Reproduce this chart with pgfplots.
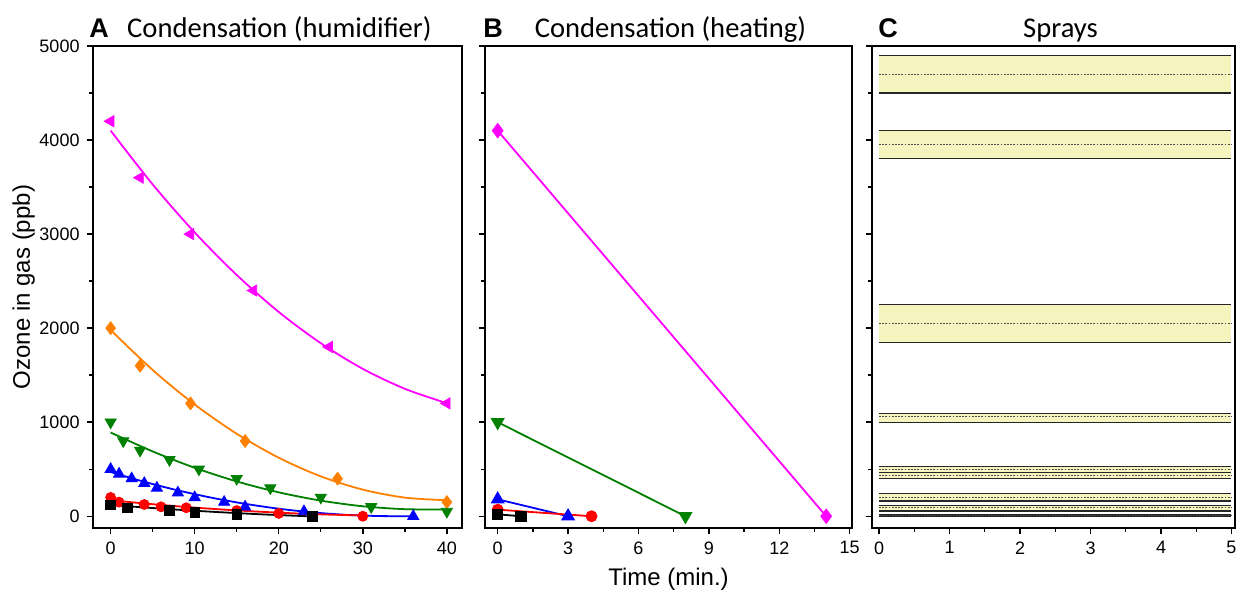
\documentclass[border=0pt]{standalone}
\usepackage{fontspec}
\setmainfont{Liberation Sans}
\newfontfamily\calibri{Carlito}
\usepackage{pgfplots}
\pgfplotsset{compat=1.18}
\definecolor{bandfill}{RGB}{246,244,190}
\definecolor{myorange}{RGB}{255,128,0}
\definecolor{mygreen}{RGB}{0,128,0}
\definecolor{mymag}{RGB}{255,0,255}

\pgfplotsset{
  panel/.style={
    scale only axis, height=241pt, ymin=-125, ymax=5000,
    anchor=south west,
    axis line style={line width=0.9pt},
    tick align=outside, tick pos=left,
    major tick length=3.2pt, minor tick length=1.8pt,
    tick style={black, line width=0.7pt},
    ytick={0,1000,...,5000}, minor ytick={500,1500,...,4500},
    tick label style={font=\fontsize{9}{10}\selectfont},
    label style={font=\fontsize{12}{14}\selectfont},
    /pgf/number format/assume math mode=true,
    /pgf/number format/set thousands separator={},
    clip=false,
  },
  fitline/.style={line width=0.9pt, no markers, smooth},
  mk/.style={only marks, mark size=#1},
}
\newcommand{\band}[3]{%
  \addplot[draw=none, fill=bandfill] coordinates {(0,#1) (5,#1) (5,#3) (0,#3)};
  \addplot[black!85, line width=0.6pt] coordinates {(0,#1) (5,#1)};
  \addplot[black!85, line width=0.6pt] coordinates {(0,#3) (5,#3)};
  \addplot[gray!60!black, line width=0.5pt, dash pattern=on 0.9pt off 0.7pt] coordinates {(0,#2) (5,#2)};
}
\newcommand{\lettr}[2]{\node[anchor=base west, font=\bfseries\fontsize{13.5}{15}\selectfont, inner sep=0pt] at (rel axis cs:0,1) [xshift=#2, yshift=4pt] {#1};}
\newcommand{\ttl}[2]{\node[anchor=base, font=\calibri\fontsize{14.3}{16}\selectfont, inner sep=0pt] at (rel axis cs:0.5,1) [xshift=#2, yshift=4pt] {#1};}

\begin{document}
\begin{tikzpicture}
\useasboundingbox (0,0) rectangle (621.5pt,296.5pt);

% ---------- Panel A ----------
\begin{axis}[panel, at={(46.5pt,32.5pt)}, width=184.5pt,
  xmin=-2.1, xmax=41.8, xtick={0,10,...,40}, minor xtick={5,15,25,35},
  ylabel={Ozone in gas (ppb)}, ylabel style={yshift=-4.5pt}]
\addplot[fitline, mymag] coordinates {(0,4100)(5,3528)(10,3017)(15,2565)(20,2172)(25,1840)(30,1567)(35,1355)(40,1202)};
\addplot[mk=3.2pt, mymag, mark=triangle*, mark options={rotate=90}] coordinates {(0,4200)(3.5,3600)(9.5,3000)(17,2400)(26,1800)(40,1200)};
\addplot[fitline, myorange] coordinates {(0,1980)(5,1555)(10,1188)(15,877)(20,622)(25,424)(30,283)(35,198)(40,170)};
\addplot[mk=3.2pt, myorange, mark=diamond*] coordinates {(0,2000)(3.5,1600)(9.5,1200)(16,800)(27,400)(40,150)};
\addplot[fitline, mygreen] coordinates {(0,890)(5,689)(10,515)(15,370)(20,254)(25,166)(30,106)(35,75)(40,72)};
\addplot[mk=3.2pt, mygreen, mark=triangle*, mark options={rotate=180}] coordinates {(0,1000)(1.5,800)(3.5,700)(7,600)(10.5,500)(15,400)(19,300)(25,200)(31,100)(40,50)};
\addplot[fitline, blue] coordinates {(0,470)(4,366)(8,275)(12,197)(16,132)(20,80)(24,41)(28,15)(32,2)(36,0)};
\addplot[mk=3.2pt, blue, mark=triangle*] coordinates {(0,500)(1,450)(2.5,400)(4,350)(5.5,300)(8,250)(10,200)(13.5,150)(16,100)(23,50)(36,0)};
\addplot[fitline, red] coordinates {(0,170)(5,128)(10,92)(15,62)(20,38)(25,20)(30,8)};
\addplot[mk=2.5pt, red, mark=*] coordinates {(0,200)(1,150)(4,125)(6,100)(9,90)(15,60)(20,30)(30,0)};
\addplot[fitline, black] coordinates {(0,120)(6,81)(12,48)(18,20)(24,-2)};
\addplot[mk=2.4pt, black, mark=square*] coordinates {(0,120)(2,90)(7,60)(10,40)(15,20)(24,0)};
\lettr{A}{-2pt}
\ttl{Condensation (humidifier)}{1pt}
\end{axis}

% ---------- Panel B ----------
\begin{axis}[panel, at={(242.5pt,32.5pt)}, width=183.5pt,
  xmin=-0.54, xmax=15.1, xtick={0,3,...,15}, minor xtick={1.5,4.5,...,13.5},
  yticklabels={}, xlabel={Time (min.)}]
\addplot[line width=0.9pt, mymag, mark=diamond*, mark size=3.2pt] coordinates {(0,4100)(14,0)};
\addplot[line width=0.9pt, mygreen, mark=triangle*, mark size=3.2pt, mark options={rotate=180}] coordinates {(0,1000)(8,0)};
\addplot[line width=0.9pt, blue, mark=triangle*, mark size=3.2pt] coordinates {(0,180)(3,0)};
\addplot[line width=0.9pt, red, mark=*, mark size=2.5pt] coordinates {(0,70)(4,0)};
\addplot[line width=0.9pt, black, mark=square*, mark size=2.4pt] coordinates {(0,20)(1,0)};
\lettr{B}{-1pt}
\ttl{Condensation (heating)}{1pt}
\end{axis}

% ---------- Panel C ----------
\begin{axis}[panel, at={(436pt,32.5pt)}, width=181.5pt,
  xmin=-0.1, xmax=5.05, xtick={0,...,5}, minor xtick={0.5,1.5,...,4.5},
  yticklabels={}]
\band{4500}{4700}{4900}
\band{3800}{3950}{4100}
\band{1850}{2050}{2250}
\band{1000}{1060}{1090}
\band{465}{500}{532}
\band{401}{430}{465}
\band{163}{200}{241}
\band{56}{88}{117}
\band{3}{10}{18}
\lettr{C}{3pt}
\ttl{Sprays}{3.5pt}
\end{axis}
\end{tikzpicture}
\end{document}
